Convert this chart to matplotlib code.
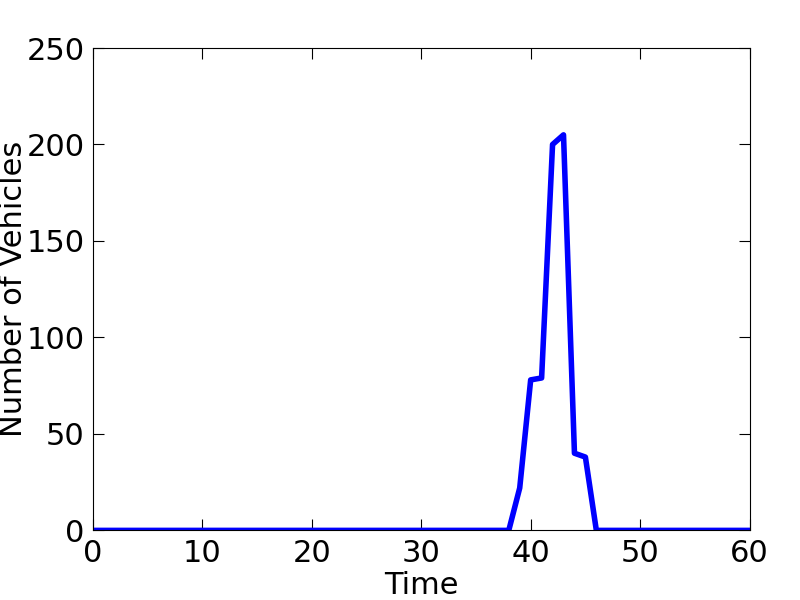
import matplotlib
matplotlib.use("Agg")
import matplotlib.pyplot as plt

time = list(range(0, 61))
peak_start = 38
peak_values = [0, 22, 78, 79, 200, 205, 40, 38, 0]
vehicles = [0] * len(time)
for i, v in enumerate(peak_values):
    vehicles[peak_start + i] = v

x_ticks = [0, 10, 20, 30, 40, 50, 60]
y_ticks = [0, 50, 100, 150, 200, 250]

fig = plt.figure(figsize=(8, 6), dpi=100)
ax = fig.add_axes([0.116, 0.116, 0.821, 0.804])
ax.plot(time, vehicles, color="#0000ff", linewidth=4)
ax.set_xlim(0, 60)
ax.set_ylim(0, 250)
ax.set_xticks(x_ticks)
ax.set_yticks(y_ticks)
ax.tick_params(direction="in", top=True, right=True, labelsize=22, length=8, pad=6)
ax.set_xlabel("Time", fontsize=22, labelpad=2)
ax.set_ylabel("Number of Vehicles", fontsize=22)
ax.yaxis.set_label_coords(-0.098, 0.5)
fig.savefig("out.png", dpi=100)
